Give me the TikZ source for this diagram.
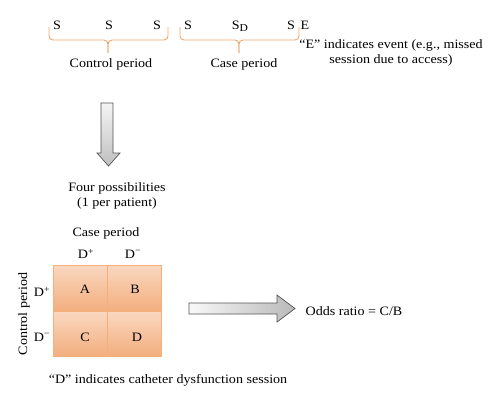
\documentclass[tikz,border=0pt]{standalone}
\usepackage{fontspec}
\setmainfont{Liberation Serif}[FakeStretch=1.1]
\usetikzlibrary{calc}
\definecolor{braceorange}{RGB}{240,165,105}
\definecolor{celltop}{RGB}{250,216,192}
\definecolor{cellbottom}{RGB}{243,174,126}
\definecolor{cellline}{RGB}{244,176,122}
\definecolor{arrowline}{RGB}{85,85,85}
\tikzset{
	periodline/.style={draw=braceorange, line width=0.9pt, rounded corners=4pt},
	cell/.style={draw=cellline, line width=0.9pt, top color=celltop, bottom color=cellbottom},
	blockarrow/.style={draw=arrowline, line width=0.7pt, line join=miter}
}
\def\periodbrace(#1,#2,#3){\draw[periodline] (#1,27) |- (#2,40) -- (#2,53); \draw[periodline] (#3,27) |- (#2,40) -- (#2,53);}

\begin{document}
\begin{tikzpicture}[x=1pt, y=-1pt, font=\fontsize{12.8}{15.5}\selectfont]
			%%%%% START %%%%%
			\useasboundingbox (0,0) rectangle (500,405);
			
			\node (s1) at (57,25) {S};
			\node (s2) at (109,25) {S};
			\node (s3) at (157,25) {S};
			\node (s4) at (188,25) {S};
			\node (sd) at (240,26) {S\raisebox{-0.3ex}{\fontsize{10.5}{12}\selectfont D}};
			\node (s5) at (291,25) {S};
			\node (ev) at (305,25) {E};
			
			\periodbrace(49,108,168)
			\periodbrace(180,239,299)
			
			\node (ctrl) at (111,64) {Control period};
			\node (case) at (244,64) {Case period};
			\node[align=center] (evnote) at (391,53) {“E” indicates event (e.g., missed\\session due to access)};
			
			\draw[blockarrow, top color=gray!8, bottom color=gray!50] (101,103) -- (113,103) -- (113,153) -- (120,153) -- (108.5,166) -- (97,153) -- (101,153) -- cycle;
			
			\node[align=center] (four) at (117,196) {Four possibilities\\(1 per patient)};
			\node (casehead) at (106,233) {Case period};
			\node (colplus) at (86,254) {D\textsuperscript{+}};
			\node (colminus) at (133,254) {D\textsuperscript{−}};
			
			\draw[cell] (53,265) rectangle (107,311);
			\draw[cell] (107,265) rectangle (161,311);
			\draw[cell] (53,311) rectangle (107,356);
			\draw[cell] (107,311) rectangle (161,356);
			
			\node (ca) at (85,289) {A};
			\node (cb) at (135,289) {B};
			\node (cc) at (85,337) {C};
			\node (cd) at (137,337) {D};
			
			\node (rowplus) at (42,292) {D\textsuperscript{+}};
			\node (rowminus) at (42,337) {D\textsuperscript{−}};
			\node[rotate=90] (ctrlhead) at (24,314) {Control period};
			
			\draw[blockarrow, left color=gray!5, right color=gray!55] (189,303) -- (277,303) -- (277,295) -- (295,308.5) -- (277,322) -- (277,314) -- (189,314) -- cycle;
			
			\node (odds) at (354,311) {Odds ratio = C/B};
			\node (dnote) at (168,380) {“D” indicates catheter dysfunction session};
			%%%%% END %%%%%
		\end{tikzpicture}
\end{document}
